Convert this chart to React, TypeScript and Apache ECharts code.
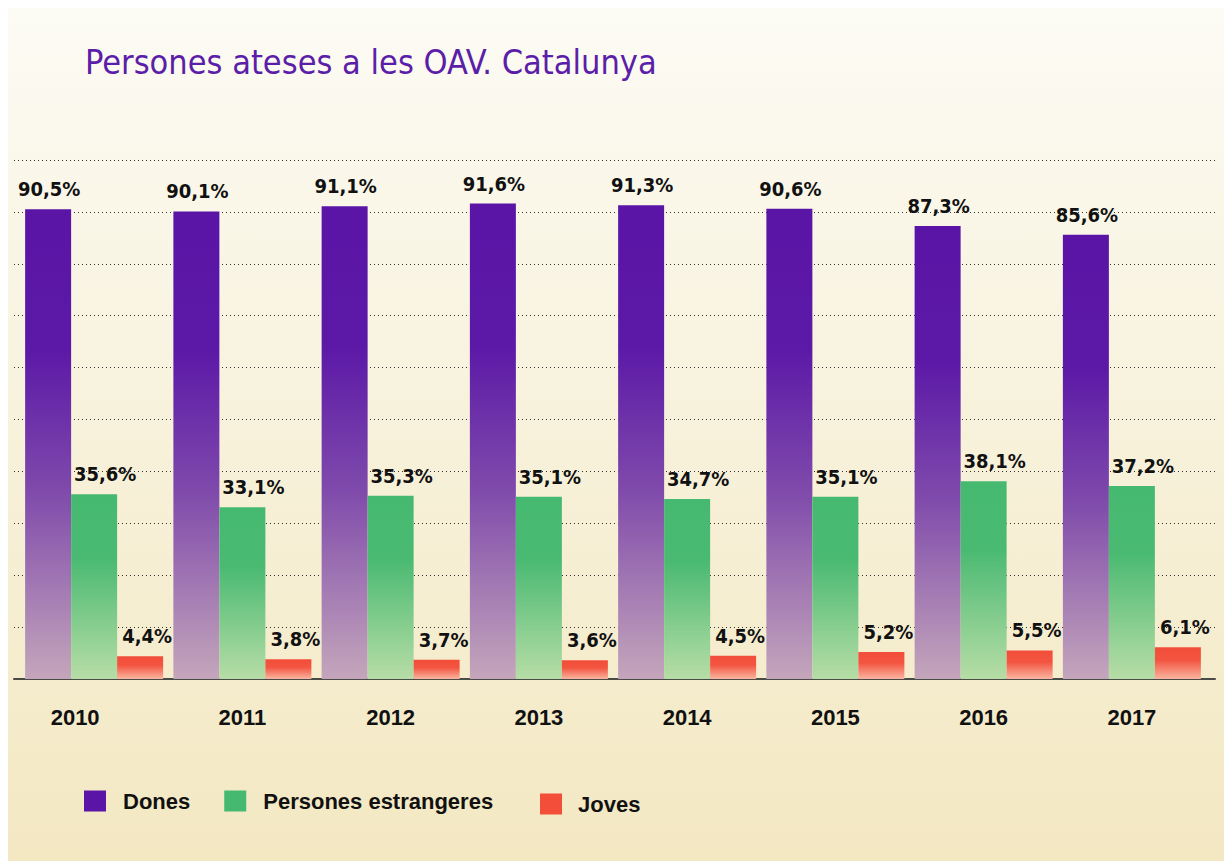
import React, { useEffect, useRef } from "react";
import * as echarts from "echarts";

const years = ["2010", "2011", "2012", "2013", "2014", "2015", "2016", "2017"];
const dones = [90.5, 90.1, 91.1, 91.6, 91.3, 90.6, 87.3, 85.6];
const estrangeres = [35.6, 33.1, 35.3, 35.1, 34.7, 35.1, 38.1, 37.2];
const joves = [4.4, 3.8, 3.7, 3.6, 4.5, 5.2, 5.5, 6.1];
const seriesNames = ["Dones", "Persones estrangeres", "Joves"];
const solidColors = ["#5a14a6", "#46b970", "#f24e3a"];

const NARROW = '"Liberation Sans Narrow", "DejaVu Sans Condensed", "Liberation Sans", sans-serif';
const WIDE = '"Liberation Sans", Arial, sans-serif';

const grad = (stops: [number, string][]) =>
  new echarts.graphic.LinearGradient(
    0, 0, 0, 1,
    stops.map(([offset, color]) => ({ offset, color }))
  );

const fmt = (v: number) => v.toFixed(1).replace(".", ",") + "%";

export default function App() {
  const ref = useRef<HTMLDivElement>(null);
  useEffect(() => {
    if (!ref.current) return;
    const chart = echarts.init(ref.current, undefined, { renderer: "svg" });
    const label = (dx: number) => ({
      show: true,
      position: "top" as const,
      distance: 10,
      offset: [dx, 0],
      formatter: (p: any) => fmt(p.value),
      fontFamily: NARROW,
      fontWeight: "bold" as const,
      fontSize: 20,
      color: "#111",
    });
    const legendText = {
      fontFamily: WIDE,
      fontWeight: "bold",
      fontSize: 22,
      color: "#111",
      padding: [0, 0, 0, 12],
    };
    chart.setOption({
      animation: false,
      backgroundColor: grad([
        [0, "#fcfbf4"],
        [1, "#f3e8c2"],
      ]),
      title: {
        text: "Persones ateses a les OAV. Catalunya",
        left: 77,
        top: 37,
        padding: 0,
        textStyle: {
          fontFamily: NARROW,
          fontWeight: "normal",
          fontSize: 34,
          color: "#5b1ea8",
        },
      },
      legend: [
        {
          data: [
            { name: seriesNames[0], itemStyle: { color: solidColors[0] } },
            { name: seriesNames[1], itemStyle: { color: solidColors[1] } },
          ],
          left: 76,
          top: 782,
          padding: 0,
          icon: "rect",
          itemWidth: 22,
          itemHeight: 21,
          itemGap: 34,
          textStyle: legendText,
        },
        {
          data: [{ name: seriesNames[2], itemStyle: { color: solidColors[2] } }],
          left: 532,
          top: 785,
          padding: 0,
          icon: "rect",
          itemWidth: 22,
          itemHeight: 21,
          textStyle: { ...legendText, padding: [4, 0, 0, 11] },
        },
      ],
      grid: [
        { left: 6, right: 9, top: 152, bottom: 182 },
        { left: 12, right: 18, top: 152, bottom: 182 },
      ],
      xAxis: [
        {
          gridIndex: 0,
          type: "value",
          min: 0,
          max: 1,
          axisLine: { show: true, onZero: false, lineStyle: { color: "#4a4a46", width: 2 } },
          axisTick: { show: false },
          axisLabel: { show: false },
          splitLine: { show: false },
        },
        {
          gridIndex: 1,
          type: "category",
          data: years,
          axisLine: { show: false },
          axisTick: { show: false },
          axisLabel: {
            margin: 27,
            formatter: (v: string, i: number) => (i === 0 ? `{s|${v}}` : `{n|${v}}`),
            rich: {
              s: {
                fontFamily: WIDE,
                fontWeight: "bold",
                fontSize: 22,
                color: "#111",
                padding: [0, 38, 0, 0],
              },
              n: {
                fontFamily: WIDE,
                fontWeight: "bold",
                fontSize: 22,
                color: "#111",
              },
            },
          },
        },
      ],
      yAxis: [
        {
          gridIndex: 0,
          type: "value",
          min: 0,
          max: 100,
          interval: 10,
          axisLine: { show: false },
          axisTick: { show: false },
          axisLabel: { show: false },
          splitLine: { show: true, lineStyle: { color: "#333", width: 1, type: [1, 3] } },
        },
        {
          gridIndex: 1,
          type: "value",
          min: 0,
          max: 100,
          interval: 10,
          show: false,
          splitLine: { show: false },
        },
      ],
      series: [
        {
          name: seriesNames[0],
          type: "bar",
          xAxisIndex: 1,
          yAxisIndex: 1,
          data: dones,
          barWidth: 46,
          barGap: "0%",
          itemStyle: {
            color: grad([
              [0, "#5a14a6"],
              [0.3, "#5c19a7"],
              [0.6, "#7f4aab"],
              [1, "#c4a6bb"],
            ]),
          },
          label: label(1),
        },
        {
          name: seriesNames[1],
          type: "bar",
          xAxisIndex: 1,
          yAxisIndex: 1,
          data: estrangeres,
          barWidth: 46,
          barGap: "0%",
          itemStyle: {
            color: grad([
              [0, "#46b970"],
              [0.35, "#4aba72"],
              [1, "#b7dda6"],
            ]),
          },
          label: label(11),
        },
        {
          name: seriesNames[2],
          type: "bar",
          xAxisIndex: 1,
          yAxisIndex: 1,
          data: joves,
          barWidth: 46,
          barGap: "0%",
          itemStyle: {
            color: grad([
              [0, "#f24e3a"],
              [0.4, "#f35440"],
              [1, "#f9b5a0"],
            ]),
          },
          label: label(7),
        },
      ],
    });
    return () => chart.dispose();
  }, []);
  return (
    <div
      ref={ref}
      style={{ position: "absolute", left: 8, top: 8, width: 1216, height: 853 }}
    />
  );
}
